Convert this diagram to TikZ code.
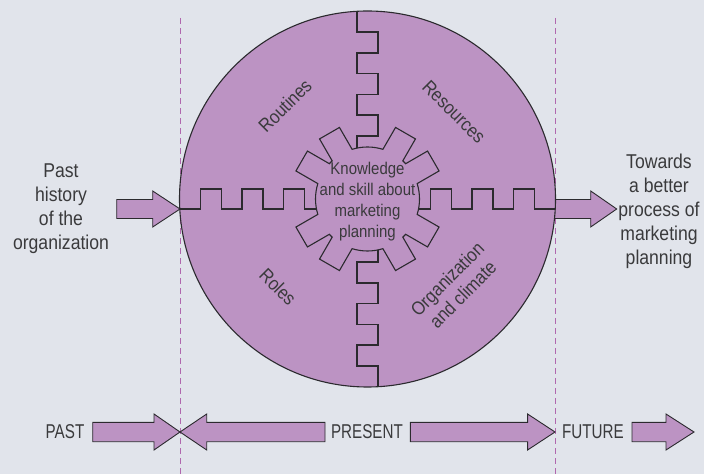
\documentclass[tikz,border=0pt]{standalone}
\usepackage{fontspec}
\setmainfont{Liberation Sans}
\newfontfamily\condfont[FakeStretch=0.88]{Liberation Sans}
\newfontfamily\capsfont[FakeStretch=0.76]{Liberation Sans}
\definecolor{bg}{HTML}{E1E4EB}
\definecolor{lilac}{HTML}{BC93C3}
\definecolor{dashc}{HTML}{B068AE}
\definecolor{ink}{HTML}{2B2A2E}
\definecolor{txt}{HTML}{3A3A3C}
\begin{document}
\begin{tikzpicture}[x=1pt,y=1pt,
  outline/.style={draw=ink, line width=1.1pt},
  blockarrow/.style={fill=lilac, draw=ink, line width=0.9pt, line join=miter},
  divider/.style={draw=ink, line width=1.1pt, line join=miter},
  guide/.style={draw=dashc, line width=1pt, dash pattern=on 6pt off 4pt},
  sidetext/.style={text=txt, font=\condfont\fontsize{20}{24}\selectfont, align=center, inner sep=0pt},
  bottomtext/.style={text=txt, font=\capsfont\fontsize{20}{24}\selectfont, inner sep=0pt},
  sectortext/.style={text=txt, font=\condfont\fontsize{19}{22}\selectfont, align=center, inner sep=0pt},
  geartext/.style={text=txt, font=\condfont\fontsize{17}{21}\selectfont, align=center, inner sep=0pt}
]
\useasboundingbox (0,0) rectangle (704,474);
\fill[bg] (0,0) rectangle (704,474);

% guide lines
\coordinate (gl1) at (180,456); \coordinate (gl2) at (180,0);
\coordinate (gr1) at (555,456); \coordinate (gr2) at (555,0);
\draw[guide] (gl1) -- (gl2);
\draw[guide] (gr1) -- (gr2);

% side block arrows
\draw[blockarrow] (116.7,255.5) -- (152.7,255.5) -- (152.7,247) -- (180,265) -- (152.7,283) -- (152.7,274.5) -- (116.7,274.5) -- cycle;
\draw[blockarrow] (548,255.5) -- (590.7,255.5) -- (590.7,247) -- (616.7,265) -- (590.7,283) -- (590.7,274.5) -- (548,274.5) -- cycle;

% bottom block arrows
\draw[blockarrow] (92.7,32.3) -- (154,32.3) -- (154,24) -- (180,42) -- (154,60) -- (154,51.7) -- (92.7,51.7) -- cycle;
\draw[blockarrow] (325,32.3) -- (206.7,32.3) -- (206.7,24) -- (180,42) -- (206.7,60) -- (206.7,51.7) -- (325,51.7) -- cycle;
\draw[blockarrow] (410.4,32.3) -- (527.6,32.3) -- (527.6,24) -- (555,42) -- (527.6,60) -- (527.6,51.7) -- (410.4,51.7) -- cycle;
\draw[blockarrow] (632,32.3) -- (666,32.3) -- (666,24) -- (694,42) -- (666,60) -- (666,51.7) -- (632,51.7) -- cycle;

\node[bottomtext] (past) at (65,42) {PAST};
\node[bottomtext] (present) at (367,42) {PRESENT};
\node[bottomtext] (future) at (593,42) {FUTURE};

\node[sidetext] (pasthist) at (61,265) {Past\\history\\of the\\organization};
\node[sidetext] (towards) at (659,263) {Towards\\a better\\process of\\marketing\\planning};

\begin{scope}[shift={(367.5,275)}]
  \fill[lilac] (0,0) circle[radius=188];
  % top arm
  \draw[divider] (-10.5,187.7) -- (-10.5,167) -- (10.5,167) -- (10.5,146) -- (-10.5,146) -- (-10.5,125.5) -- (10.5,125.5) -- (10.5,104.5) -- (-10.5,104.5) -- (-10.5,84) -- (10.5,84) -- (10.5,63) -- (-10.5,63) -- (-10.5,50.9);
  % bottom arm
  \draw[divider] (10.5,-50.9) -- (10.5,-63) -- (-10.5,-63) -- (-10.5,-84) -- (10.5,-84) -- (10.5,-104.5) -- (-10.5,-104.5) -- (-10.5,-125.5) -- (10.5,-125.5) -- (10.5,-146) -- (-10.5,-146) -- (-10.5,-167) -- (10.5,-167) -- (10.5,-187.7);
  % left arm
  \draw[divider] (-187.7,-10) -- (-167,-10) -- (-167,10) -- (-146,10) -- (-146,-10) -- (-125.5,-10) -- (-125.5,10) -- (-104.5,10) -- (-104.5,-10) -- (-84,-10) -- (-84,10) -- (-63,10) -- (-63,-10) -- (-51,-10);
  % right arm
  \draw[divider] (51,-10) -- (63,-10) -- (63,10) -- (84,10) -- (84,-10) -- (104.5,-10) -- (104.5,10) -- (125.5,10) -- (125.5,-10) -- (146,-10) -- (146,10) -- (167,10) -- (167,-10) -- (187.7,-10);
  % gear
  \pgfmathsetmacro{\gR}{52}
  \pgfmathsetmacro{\gL}{76}
  \pgfmathsetmacro{\gw}{11.5}
  \pgfmathsetmacro{\gd}{asin(\gw/\gR)}
  \pgfmathsetmacro{\gc}{sqrt(\gL*\gL+\gw*\gw)}
  \pgfmathsetmacro{\ge}{atan(\gw/\gL)}
  \draw[divider] ({-30+\gd}:\gR)
    \foreach \p/\t in {-30/30,30/60,60/120,120/150,150/210,210/240,240/300,300/330} {
      arc[start angle={\p+\gd}, end angle={\t-\gd}, radius=\gR]
      -- ({\t-\ge}:\gc) -- ({\t+\ge}:\gc) -- ({\t+\gd}:\gR)
    } -- cycle;
  \draw[outline] (0,0) circle[radius=188];
  \node[geartext] (gear) at (0,-2.8) {Knowledge\\and skill about\\marketing\\planning};
  \node[sectortext, rotate=45] (routines) at (-82.5,93.3) {Routines};
  \node[sectortext, rotate=-45] (resources) at (86.5,87) {Resources};
  \node[sectortext, rotate=-45] (roles) at (-89.5,-88) {Roles};
  \node[sectortext, rotate=45] (orgclim) at (87.5,-87.7) {Organization\\and climate};
\end{scope}
\end{tikzpicture}
\end{document}
